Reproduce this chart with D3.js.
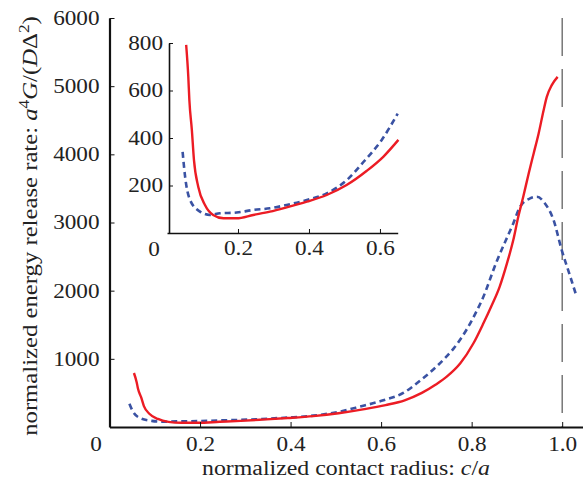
<!DOCTYPE html>
<html>
<head>
<meta charset="utf-8">
<script src="https://cdn.jsdelivr.net/npm/d3@7"></script>
<style>
	body { margin: 0; background: white; }
	svg text { font-family: "Liberation Serif", "Times New Roman", serif; fill: #222; }
	.axis path, .axis line { stroke: #111; }
</style>
</head>
<body>
<svg id="chart" width="583" height="485" font-family="Liberation Serif"></svg>
<script>
// values: [c/a, G]
var redCurve = [
	[0.054, 792], [0.060, 658], [0.063, 560], [0.070, 434], [0.076, 307], [0.088, 195],
	[0.107, 118], [0.130, 76], [0.159, 62], [0.196, 62], [0.243, 76], [0.290, 90],
	[0.337, 108], [0.394, 132], [0.450, 160], [0.506, 202], [0.563, 262], [0.610, 322],
	[0.652, 392], [0.690, 500], [0.720, 620], [0.745, 738], [0.775, 934], [0.804, 1228],
	[0.826, 1521], [0.843, 1765], [0.862, 2060], [0.878, 2400], [0.892, 2742], [0.903, 3084],
	[0.914, 3377], [0.926, 3720], [0.937, 4013], [0.948, 4306], [0.959, 4648], [0.966, 4843],
	[0.977, 5015], [0.990, 5136]
];
var blueCurve = [
	[0.044, 342], [0.051, 237], [0.065, 139], [0.093, 90], [0.121, 76], [0.149, 83],
	[0.196, 86], [0.243, 97], [0.290, 104], [0.337, 118], [0.394, 139], [0.450, 167],
	[0.506, 222], [0.554, 300], [0.605, 392], [0.650, 503], [0.686, 680], [0.723, 890],
	[0.741, 1010], [0.760, 1150], [0.789, 1430], [0.811, 1700], [0.822, 1850], [0.856, 2440],
	[0.892, 2987], [0.907, 3230], [0.929, 3353], [0.944, 3377], [0.962, 3280], [0.981, 3035],
	[0.999, 2595], [1.018, 2204], [1.032, 1911]
];
var mainXTicks = [0.2, 0.4, 0.6, 0.8, 1.0];
var mainYTicks = [1000, 2000, 3000, 4000, 5000, 6000];
var insetXTicks = [0.2, 0.4, 0.6];
var insetYTicks = [200, 400, 600, 800];
var contactLimit = 1.0;

var svg = d3.select("#chart");
var redColor = "#ec1c24", blueColor = "#3a52a3";
var stretch = 1.16;   // the original lettering is wider than Liberation Serif
var serif = "'Liberation Serif', 'Times New Roman', serif";

// main panel
var x = d3.scaleLinear().domain([0, 1.046]).range([109.5, 583]);
var y = d3.scaleLinear().domain([0, 6000]).range([427, 18]);

var line = d3.line()
	.x(function(d) { return x(d[0]); })
	.y(function(d) { return y(d[1]); })
	.curve(d3.curveMonotoneX);

svg.append("line")
	.attr("x1", x(contactLimit)).attr("x2", x(contactLimit))
	.attr("y1", y(6000)).attr("y2", y(0))
	.attr("stroke", "#555").attr("stroke-width", 1.2)
	.attr("stroke-dasharray", "38,13");

svg.append("path").datum(blueCurve)
	.attr("d", line).attr("fill", "none")
	.attr("stroke", blueColor).attr("stroke-width", 2.6)
	.attr("stroke-dasharray", "6,4");
svg.append("path").datum(redCurve)
	.attr("d", line).attr("fill", "none")
	.attr("stroke", redColor).attr("stroke-width", 2.4);

var xAxis = d3.axisBottom(x).tickValues(mainXTicks)
	.tickSizeInner(-5).tickSizeOuter(0).tickPadding(10)
	.tickFormat(d3.format(".1f"));
var yAxis = d3.axisLeft(y).tickValues(mainYTicks)
	.tickSizeInner(-5).tickSizeOuter(0).tickPadding(10)
	.tickFormat(d3.format("d"));

function styleAxis(g, w) {
	g.attr("font-family", null).attr("font-size", null);
	g.select(".domain").attr("stroke-width", w);
	g.selectAll(".tick line").attr("stroke-width", 1);
	g.selectAll("text").style("font-size", "20px").style("font-family", serif)
		.attr("class", "stretch");
}

var gx = svg.append("g").attr("class", "axis")
	.attr("transform", "translate(0," + y(0) + ")").call(xAxis);
var gy = svg.append("g").attr("class", "axis")
	.attr("transform", "translate(" + x(0) + ",0)").call(yAxis);
styleAxis(gx, 2.2);
styleAxis(gy, 2.2);
svg.append("text").attr("class", "stretch").attr("x", 96).attr("y", 451)
	.attr("text-anchor", "middle").style("font-size", "20px").text("0");

// inset
var ix = d3.scaleLinear().domain([0, 0.65]).range([167, 397.7]);
var iy = d3.scaleLinear().domain([0, 800]).range([233, 43]);
var insetLine = d3.line()
	.x(function(d) { return ix(d[0]); })
	.y(function(d) { return iy(d[1]); })
	.curve(d3.curveMonotoneX);

svg.append("rect").attr("x", 162).attr("y", 38).attr("width", 240).attr("height", 196)
	.attr("fill", "white");

var insetRed = redCurve.filter(function(d) { return d[0] <= 0.655; });
var insetBlue = blueCurve.filter(function(d) { return d[0] <= 0.655; });
svg.append("path").datum(insetBlue)
	.attr("d", insetLine).attr("fill", "none")
	.attr("stroke", blueColor).attr("stroke-width", 2.6)
	.attr("stroke-dasharray", "6,4");
svg.append("path").datum(insetRed)
	.attr("d", insetLine).attr("fill", "none")
	.attr("stroke", redColor).attr("stroke-width", 2.4);

var ixAxis = d3.axisBottom(ix).tickValues(insetXTicks)
	.tickSizeInner(-4).tickSizeOuter(0).tickPadding(8)
	.tickFormat(d3.format(".1f"));
var iyAxis = d3.axisLeft(iy).tickValues(insetYTicks)
	.tickSizeInner(-4).tickSizeOuter(0).tickPadding(6)
	.tickFormat(d3.format("d"));
var igx = svg.append("g").attr("class", "axis")
	.attr("transform", "translate(0," + iy(0) + ")").call(ixAxis);
var igy = svg.append("g").attr("class", "axis")
	.attr("transform", "translate(169,0)").call(iyAxis);
styleAxis(igx, 1.6);
styleAxis(igy, 1.6);
svg.append("text").attr("class", "stretch").attr("x", 154).attr("y", 256)
	.attr("text-anchor", "middle").style("font-size", "20px").text("0");

// widen tick labels about their anchor point
svg.selectAll("text.stretch").each(function() {
	var t = d3.select(this);
	var ax = +t.attr("x") || 0;
	t.attr("transform", "translate(" + ax + ",0) scale(" + stretch + ",1) translate(" + (-ax) + ",0)");
});

// axis titles, stretched to the lengths in the original
var xTitle = svg.append("text")
	.attr("text-anchor", "middle").style("font-size", "20px")
	.html("normalized contact radius: <tspan font-style='italic'>c</tspan>/<tspan font-style='italic'>a</tspan>");
var xs = 288 / xTitle.node().getComputedTextLength();
xTitle.attr("transform", "translate(346,475) scale(" + xs + ",1)");

var yTitle = svg.append("text")
	.attr("text-anchor", "middle").style("font-size", "20px")
	.html("normalized energy release rate: <tspan font-style='italic'>a</tspan><tspan dy='-8' font-size='14px'>4</tspan><tspan dy='8' font-style='italic'>G</tspan>/(<tspan font-style='italic'>D</tspan>Δ<tspan dy='-8' font-size='14px'>2</tspan><tspan dy='8'>)</tspan>");
var ys = 420 / yTitle.node().getComputedTextLength();
yTitle.attr("transform", "translate(37,226) rotate(-90) scale(" + ys + ",1)");
</script>
</body>
</html>
